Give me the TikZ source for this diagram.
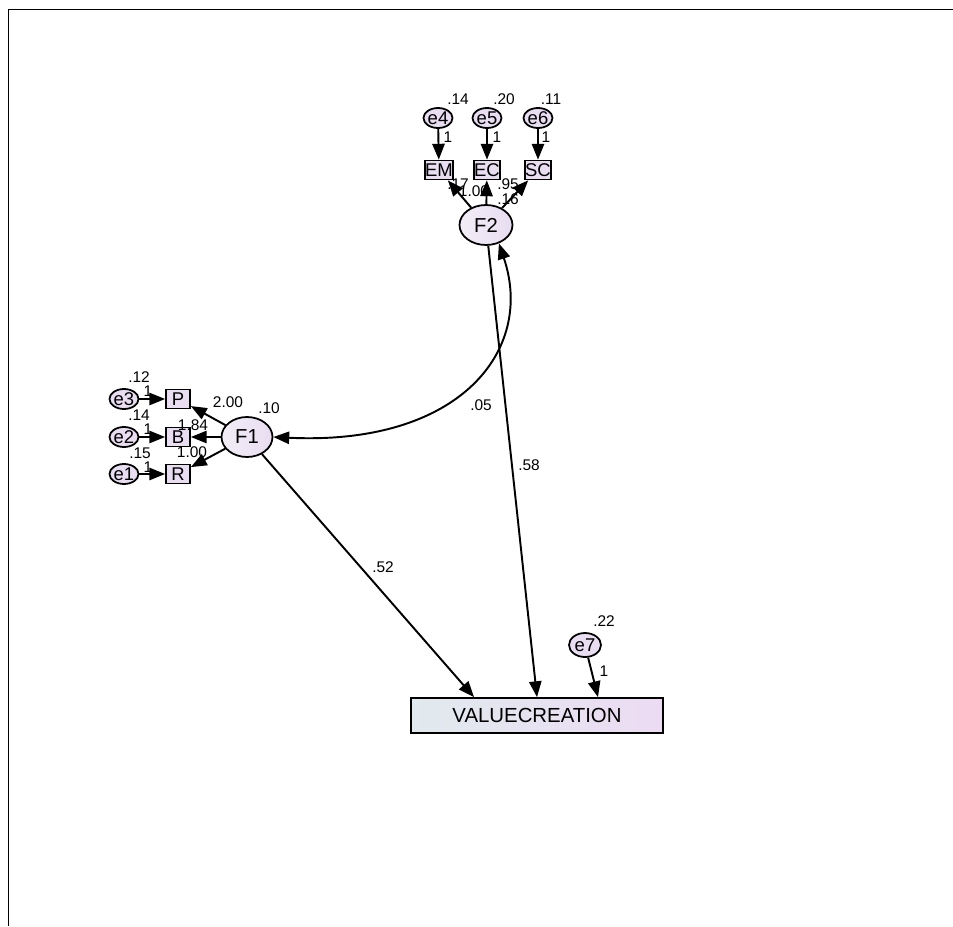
\documentclass[tikz,border=0pt]{standalone}
\usepackage{fontspec}
\setmainfont{Liberation Sans}
\usetikzlibrary{arrows.meta,shapes.geometric}
\definecolor{lav}{HTML}{E8DDF1}
\definecolor{lavlight}{HTML}{F2EDF7}
\definecolor{vcleft}{HTML}{E1EAEE}
\definecolor{vcright}{HTML}{EDDBF3}

\begin{document}
\begin{tikzpicture}[x=0.02cm, y=-0.02cm, font=\fontsize{8.8}{10}\selectfont,
  err/.style={ellipse, draw, line width=1pt, fill=lav, inner sep=0pt, minimum width=0.52cm, minimum height=0.4cm, font=\fontsize{10.5}{11}\selectfont},
  lat/.style={ellipse, draw, line width=1pt, left color=lavlight, right color=lav, inner sep=0pt, minimum width=1.06cm, minimum height=0.8cm, font=\fontsize{11.5}{12}\selectfont},
  obs/.style={rectangle, draw, line width=1pt, fill=lav, inner sep=0pt, minimum width=0.5cm, minimum height=0.38cm, font=\fontsize{10.5}{11}\selectfont},
  vcbox/.style={rectangle, draw, line width=1pt, left color=vcleft, right color=vcright, minimum width=5.04cm, minimum height=0.7cm, font=\fontsize{11.6}{12}\selectfont},
  est/.style={inner sep=0pt},
  arr/.style={-{Triangle[length=9pt,width=7pt]}, line width=1.1pt},
  dbl/.style={{Triangle[length=9pt,width=7pt]}-{Triangle[length=9pt,width=7pt]}, line width=1.1pt}]
  \useasboundingbox (0,0) rectangle (953,926);
  \draw (8,926) -- (8,9) -- (953,9);

  % latent factors and outcome
  \node[lat] (F2) at (486,225) {F2};
  \node[lat, minimum width=1.02cm] (F1) at (247,437) {F1};
  \node[vcbox] (vc) at (537,715.5) {VALUECREATION};

  % indicators with their errors
  \node[obs] (EM) at (439,170) {EM};
  \node[obs] (EC) at (487,170) {EC};
  \node[obs] (SC) at (538,170) {SC};
  \node[err] (e4) at (438,118) {e4};
  \node[err] (e5) at (487,118) {e5};
  \node[err] (e6) at (538,118) {e6};
  \node[obs, minimum width=0.48cm] (P) at (178,399) {P};
  \node[obs, minimum width=0.48cm] (B) at (178,437) {B};
  \node[obs, minimum width=0.48cm] (R) at (178,474) {R};
  \node[err] (e3) at (124,399) {e3};
  \node[err] (e2) at (124,437) {e2};
  \node[err] (e1) at (124,474) {e1};
  \node[err, minimum width=0.64cm, minimum height=0.48cm] (e7) at (585,645) {e7};

  \foreach \e/\o in {e4/EM,e5/EC,e6/SC,e3/P,e2/B,e1/R}
    \draw[arr] (\e) -- (\o);
  \foreach \o in {EM,EC,SC}
    \draw[arr] (F2) -- (\o);
  \foreach \o in {P,B,R}
    \draw[arr] (F1) -- (\o);
  \draw[arr] (F1) -- ([xshift=-1.26cm]vc.north);
  \draw[arr] (F2) -- (vc.north);
  \draw[arr] (e7) -- ([xshift=1.22cm]vc.north);
  \draw[dbl] (F2.-55) .. controls (535,350) and (460,446) .. (F1.east);

  % estimates
  \foreach \t/\x/\y [count=\i] in {.14/458/99, .20/504/99, .11/551/99,
      1/448/137, 1/497/137, 1/546/137, .17/458/184, 1.00/474/191,
      .95/508/184, .16/508/199, .12/139/377, 1/148/391, .14/139/415,
      1/148/429, .15/140/453, 1/148/467, 2.00/228/402, 1.84/193/425,
      1.00/192/452, .10/269/408, .05/481/405, .58/529/465, .52/383/567,
      .22/604/621, 1/604/671}
    \node[est] (lab\i) at (\x,\y) {\t};
\end{tikzpicture}
\end{document}
